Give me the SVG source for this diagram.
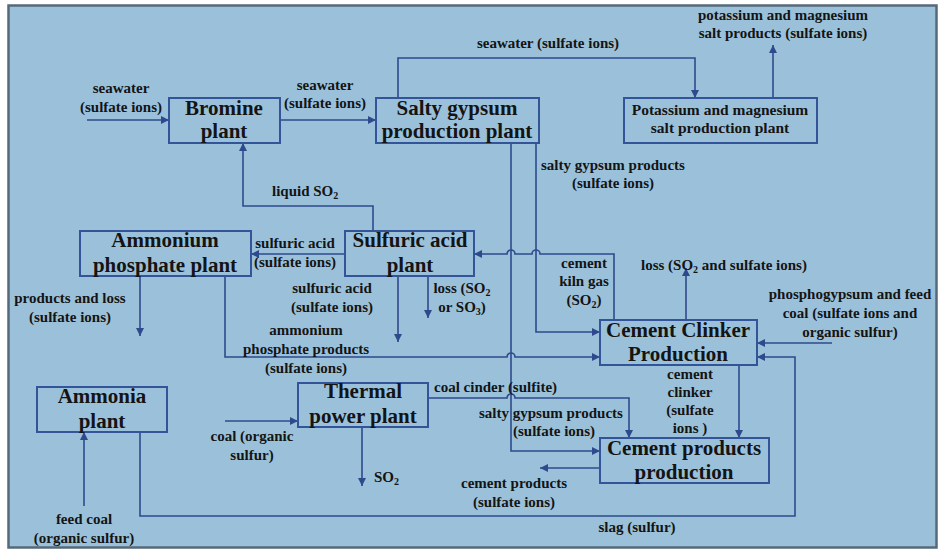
<svg xmlns="http://www.w3.org/2000/svg" width="938" height="549" viewBox="0 0 938 549">
<defs>
<marker id="ah" viewBox="0 0 10 10" refX="10" refY="5" markerWidth="9" markerHeight="8" markerUnits="userSpaceOnUse" orient="auto">
<path d="M0,0 L10,5 L0,10 z" fill="#2e4a8c"/>
</marker>
<style>
.box{fill:none;stroke:#34549a;stroke-width:2}
.t{font-family:"Liberation Serif","Times New Roman",serif;font-weight:bold;font-size:21px;fill:#141414;text-anchor:middle}
.ts{font-family:"Liberation Serif","Times New Roman",serif;font-weight:bold;font-size:15.5px;fill:#141414;text-anchor:middle}
.l{font-family:"Liberation Serif","Times New Roman",serif;font-weight:bold;font-size:15px;fill:#141414;text-anchor:middle}
.ls{text-anchor:start}
.c{fill:none;stroke:#2e4a8c;stroke-width:1.6}
.a{marker-end:url(#ah)}
</style>
</defs>
<rect x="0" y="0" width="938" height="549" fill="#ffffff"/>
<rect x="8.5" y="5.5" width="928" height="542" fill="#9bc1da" stroke="#56697a" stroke-width="2.5"/>

<g id="connectors">
<path class="c a" d="M87,120 H169"/>
<path class="c a" d="M280,120 H376"/>
<path class="c a" d="M398,98 V58 H695 V98"/>
<path class="c a" d="M773,98 V45"/>
<path class="c a" d="M373,231 V206 H243 V143"/>
<path class="c a" d="M345,254 H251"/>
<path class="c a" d="M140,276 V336"/>
<path class="c a" d="M225,276 V357 H507 a4,4 0 0 1 8,0 H600"/>
<path class="c a" d="M398,276 V342"/>
<path class="c a" d="M428,276 V318"/>
<path class="c a" d="M511,143 V451 H600"/>
<path class="c a" d="M536,143 V332 H600"/>
<path class="c a" d="M614,320 V254 H540 a4,4 0 0 0 -8,0 H515 a4,4 0 0 0 -8,0 H474"/>
<path class="c a" d="M686,320 V268"/>
<path class="c a" d="M832,343 H757"/>
<path class="c a" d="M140,432 V516 H795 V357 H757"/>
<path class="c a" d="M84,506 V432"/>
<path class="c a" d="M225,421 H298"/>
<path class="c a" d="M362,427 V486"/>
<path class="c a" d="M428,398 H507 a4,4 0 0 1 8,0 H629 V438"/>
<path class="c a" d="M739,365 V438"/>
<path class="c a" d="M600,468 H540"/>
</g>

<g id="labels">
<text class="l" x="121" y="93">seawater</text>
<text class="l" x="121" y="112">(sulfate ions)</text>
<text class="l" x="325" y="90">seawater</text>
<text class="l" x="325" y="108">(sulfate ions)</text>
<text class="l" x="548" y="48">seawater (sulfate ions)</text>
<text class="l" x="783" y="20">potassium and magnesium</text>
<text class="l" x="783" y="38">salt products (sulfate ions)</text>
<text class="l ls" x="272" y="196">liquid SO<tspan font-size="10" dy="3">2</tspan></text>
<text class="l" x="295" y="248">sulfuric acid</text>
<text class="l" x="295" y="267">(sulfate ions)</text>
<text class="l" x="70" y="303">products and loss</text>
<text class="l" x="70" y="322">(sulfate ions)</text>
<text class="l" x="332" y="293">sulfuric acid</text>
<text class="l" x="332" y="312">(sulfate ions)</text>
<text class="l" x="462" y="293">loss (SO<tspan font-size="10" dy="3">2</tspan></text>
<text class="l" x="462" y="312">or SO<tspan font-size="10" dy="3">3</tspan><tspan dy="-3">)</tspan></text>
<text class="l" x="306" y="335">ammonium</text>
<text class="l" x="306" y="354">phosphate products</text>
<text class="l" x="306" y="373">(sulfate ions)</text>
<text class="l" x="613" y="170">salty gypsum products</text>
<text class="l" x="613" y="188">(sulfate ions)</text>
<text class="l" x="584" y="268">cement</text>
<text class="l" x="584" y="286">kiln gas</text>
<text class="l" x="584" y="305">(SO<tspan font-size="10" dy="3">2</tspan><tspan dy="-3">)</tspan></text>
<text class="l ls" x="641" y="270">loss (SO<tspan font-size="10" dy="3">2</tspan><tspan dy="-3"> and sulfate ions)</tspan></text>
<text class="l" x="850" y="299">phosphogypsum and feed</text>
<text class="l" x="850" y="318">coal (sulfate ions and</text>
<text class="l" x="850" y="337">organic sulfur)</text>
<text class="l ls" x="434" y="392">coal cinder (sulfite)</text>
<text class="l ls" x="479" y="418">salty gypsum products</text>
<text class="l" x="554" y="436">(sulfate ions)</text>
<text class="l" x="690" y="379">cement</text>
<text class="l" x="690" y="397">clinker</text>
<text class="l" x="690" y="415">(sulfate</text>
<text class="l" x="690" y="433">ions )</text>
<text class="l" x="514" y="488">cement products</text>
<text class="l" x="514" y="507">(sulfate ions)</text>
<text class="l" x="637" y="532">slag (sulfur)</text>
<text class="l" x="84" y="524">feed coal</text>
<text class="l" x="84" y="543">(organic sulfur)</text>
<text class="l" x="252" y="441">coal (organic</text>
<text class="l" x="252" y="460">sulfur)</text>
<text class="l ls" x="374" y="482">SO<tspan font-size="10" dy="3">2</tspan></text>
</g>

<g id="bromine">
<rect class="box" x="169" y="98" width="111" height="45"/>
<text class="t" x="224" y="115">Bromine</text>
<text class="t" x="224" y="138">plant</text>
</g>
<g id="salty-gypsum">
<rect class="box" x="376" y="98" width="163" height="45"/>
<text class="t" x="457" y="115">Salty gypsum</text>
<text class="t" x="457" y="138">production plant</text>
</g>
<g id="potassium">
<rect class="box" x="624" y="98" width="193" height="45"/>
<text class="ts" x="720" y="115">Potassium and magnesium</text>
<text class="ts" x="720" y="133">salt production plant</text>
</g>
<g id="ammonium">
<rect class="box" x="80" y="231" width="171" height="45"/>
<text class="t" x="165" y="247">Ammonium</text>
<text class="t" x="165" y="272">phosphate plant</text>
</g>
<g id="sulfuric">
<rect class="box" x="345" y="231" width="129" height="45"/>
<text class="t" x="410" y="247">Sulfuric acid</text>
<text class="t" x="410" y="272">plant</text>
</g>
<g id="clinker">
<rect class="box" x="600" y="320" width="157" height="45"/>
<text class="t" x="678" y="337">Cement Clinker</text>
<text class="t" x="678" y="361">Production</text>
</g>
<g id="cement-products">
<rect class="box" x="600" y="438" width="169" height="45"/>
<text class="t" x="684" y="455">Cement products</text>
<text class="t" x="684" y="479">production</text>
</g>
<g id="ammonia">
<rect class="box" x="37" y="387" width="130" height="45"/>
<text class="t" x="102" y="403">Ammonia</text>
<text class="t" x="102" y="428">plant</text>
</g>
<g id="thermal">
<rect class="box" x="298" y="383" width="130" height="44"/>
<text class="t" x="363" y="398">Thermal</text>
<text class="t" x="363" y="423">power plant</text>
</g>
</svg>
